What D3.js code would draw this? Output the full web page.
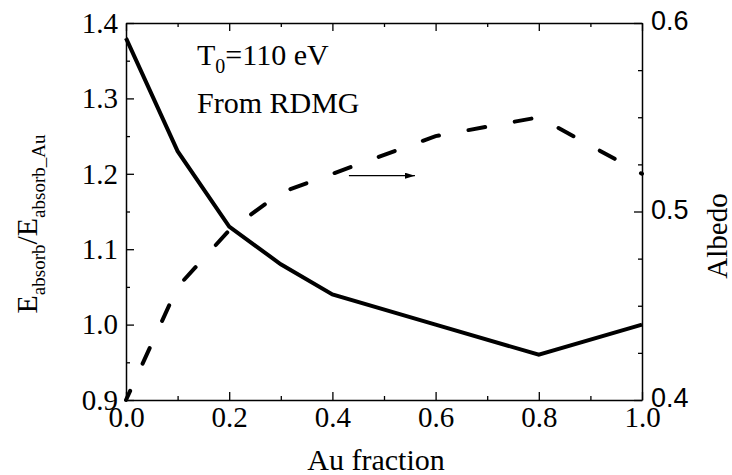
<!DOCTYPE html>
<html><head><meta charset="utf-8">
<script src="https://cdn.jsdelivr.net/npm/d3@7"></script>
<style>body{margin:0;background:#fff}svg{display:block}</style>
</head><body>
<script>
const auFraction = [0.0, 0.1, 0.2, 0.3, 0.4, 0.6, 0.8, 1.0];
const energyRatio = [1.38, 1.23, 1.13, 1.08, 1.04, 1.00, 0.96, 1.00];
const albedo = [0.40, 0.46, 0.49, 0.51, 0.52, 0.54, 0.55, 0.52];
const xTicks = [0.0, 0.2, 0.4, 0.6, 0.8, 1.0];
const xMinor = [0.1, 0.3, 0.5, 0.7, 0.9];
const yLeftTicks = [0.9, 1.0, 1.1, 1.2, 1.3, 1.4];
const yLeftMinor = [0.95, 1.05, 1.15, 1.25, 1.35];
const yRightTicks = [0.4, 0.5, 0.6];
const yRightMinor = [0.425, 0.45, 0.475, 0.525, 0.55, 0.575];

const W = 732, H = 475;
const m = {left: 126, right: 642, top: 23, bottom: 400};
const serif = "'Liberation Serif','Times New Roman',serif";
const sans = "'Liberation Sans',Arial,sans-serif";

const svg = d3.select("body").append("svg").attr("width", W).attr("height", H);
const x = d3.scaleLinear().domain([0, 1]).range([m.left, m.right]);
const yL = d3.scaleLinear().domain([0.9, 1.4]).range([m.bottom, m.top]);
const yR = d3.scaleLinear().domain([0.4, 0.6]).range([m.bottom, m.top]);

function styleAxis(g, font, size) {
  g.select(".domain").attr("stroke", "#000").attr("stroke-width", 1.5);
  g.selectAll(".tick line").attr("stroke", "#000").attr("stroke-width", 1.3);
  g.selectAll(".tick text").attr("fill", "#000").style("font-family", font).style("font-size", size + "px");
}
function minor(axisFn, scale, vals, transform) {
  const g = svg.append("g").attr("transform", transform)
    .call(axisFn(scale).tickValues(vals).tickSizeInner(-4).tickSizeOuter(0).tickFormat(""));
  g.select(".domain").remove();
  g.selectAll(".tick line").attr("stroke", "#000").attr("stroke-width", 1.3);
}

// bottom
const gB = svg.append("g").attr("transform", `translate(0,${m.bottom})`)
  .call(d3.axisBottom(x).tickValues(xTicks).tickSizeInner(-8).tickSizeOuter(0).tickPadding(6).tickFormat(d3.format(".1f")));
styleAxis(gB, serif, 29);
gB.selectAll(".tick text").attr("dy", "0.72em");
minor(d3.axisBottom, x, xMinor, `translate(0,${m.bottom})`);
// top
const gT = svg.append("g").attr("transform", `translate(0,${m.top})`)
  .call(d3.axisTop(x).tickValues(xTicks).tickSizeInner(-8).tickSizeOuter(0).tickFormat(""));
styleAxis(gT, serif, 29);
minor(d3.axisTop, x, xMinor, `translate(0,${m.top})`);
// left
const gL = svg.append("g").attr("transform", `translate(${m.left},0)`)
  .call(d3.axisLeft(yL).tickValues(yLeftTicks).tickSizeInner(-8).tickSizeOuter(0).tickPadding(8).tickFormat(d3.format(".1f")));
styleAxis(gL, serif, 29);
minor(d3.axisLeft, yL, yLeftMinor, `translate(${m.left},0)`);
// right
const gR = svg.append("g").attr("transform", `translate(${m.right},0)`)
  .call(d3.axisRight(yR).tickValues(yRightTicks).tickSizeInner(-8).tickSizeOuter(0).tickPadding(9).tickFormat(d3.format(".1f")));
styleAxis(gR, sans, 27);
gR.selectAll(".tick text").attr("dy", "0.25em");
minor(d3.axisRight, yR, yRightMinor, `translate(${m.right},0)`);

// lines
const solid = d3.line().x((d, i) => x(auFraction[i])).y(d => yL(d));
svg.append("path").datum(energyRatio).attr("d", solid)
  .attr("fill", "none").attr("stroke", "#000").attr("stroke-width", 4).attr("stroke-linejoin", "miter");
const dashed = d3.line().x((d, i) => x(auFraction[i])).y(d => yR(d));
svg.append("path").datum(albedo).attr("d", dashed)
  .attr("fill", "none").attr("stroke", "#000").attr("stroke-width", 4)
  .attr("stroke-linecap", "round").attr("stroke-dasharray", "17,30").attr("stroke-dashoffset", 7);

// arrow pointing to right axis
svg.append("defs").append("marker").attr("id", "ah").attr("viewBox", "0 0 10 6")
  .attr("refX", 10).attr("refY", 3).attr("markerWidth", 10).attr("markerHeight", 6)
  .attr("markerUnits", "userSpaceOnUse").attr("orient", "auto")
  .append("path").attr("d", "M0,0 L10,3 L0,6 Z").attr("fill", "#000");
svg.append("line").attr("x1", x(0.432)).attr("x2", x(0.56)).attr("y1", yR(0.519)).attr("y2", yR(0.519))
  .attr("stroke", "#000").attr("stroke-width", 1.3).attr("marker-end", "url(#ah)");

// annotations
const t1 = svg.append("text").attr("x", 197).attr("y", 65).style("font-family", serif).style("font-size", "30px");
t1.append("tspan").text("T");
t1.append("tspan").attr("dy", 8).style("font-size", "20px").text("0");
t1.append("tspan").attr("dy", -8).text("=110 eV");
svg.append("text").attr("x", 197).attr("y", 113).style("font-family", serif).style("font-size", "30px").text("From RDMG");

// axis titles
svg.append("text").attr("x", 376).attr("y", 470).attr("text-anchor", "middle")
  .style("font-family", serif).style("font-size", "30px").text("Au fraction");
svg.append("text").attr("transform", "translate(727,236) rotate(-90)").attr("text-anchor", "middle")
  .style("font-family", serif).style("font-size", "29px").text("Albedo");
const yt = svg.append("text").attr("transform", "translate(37,224) rotate(-90)").attr("text-anchor", "middle")
  .style("font-family", serif).style("font-size", "30px");
yt.append("tspan").text("E");
yt.append("tspan").attr("dy", 8).style("font-size", "19px").text("absorb");
yt.append("tspan").attr("dy", -8).text("/E");
yt.append("tspan").attr("dy", 8).style("font-size", "19px").text("absorb_Au");
</script>
</body></html>
